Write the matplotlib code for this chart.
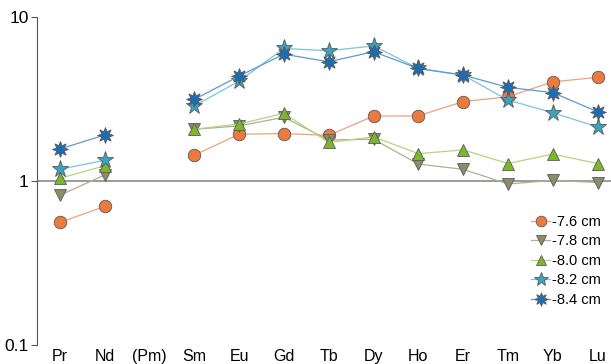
import numpy as np
import matplotlib.pyplot as plt

plt.rcParams['font.family'] = ['Liberation Sans', 'DejaVu Sans']

elements = ["Pr", "Nd", "(Pm)", "Sm", "Eu", "Gd", "Tb", "Dy", "Ho", "Er", "Tm", "Yb", "Lu"]
nan = np.nan

d76 = [0.56, 0.70, nan, 1.44, 1.93, 1.95, 1.90, 2.49, 2.50, 3.05, 3.27, 4.03, 4.29]
d78 = [0.82, 1.09, nan, 2.07, 2.17, 2.45, 1.78, 1.80, 1.27, 1.18, 0.96, 1.01, 0.98]
d80 = [1.04, 1.24, nan, 2.07, 2.23, 2.59, 1.72, 1.86, 1.47, 1.55, 1.28, 1.46, 1.28]
d82 = [1.18, 1.34, nan, 2.87, 4.07, 6.44, 6.23, 6.68, 4.86, 4.43, 3.12, 2.61, 2.14]
d84 = [1.57, 1.91, nan, 3.15, 4.37, 5.94, 5.34, 6.15, 4.86, 4.43, 3.73, 3.46, 2.65]

labels = ["-7.6 cm", "-7.8 cm", "-8.0 cm", "-8.2 cm", "-8.4 cm"]
series = [d76, d78, d80, d82, d84]
face = ["#EC7A3E", "#8C8B6A", "#7DB62C", "#3AA3C0", "#1B6DB3"]
line = ["#F0A07A", "#B0AE93", "#B4D67A", "#7CC4DA", "#5A9BCF"]
markers = ["o", "v", "^", "*", (8, 1, 0)]
sizes = [9, 9, 9, 12.5, 11.5]

fig = plt.figure(figsize=(6.11, 3.64), dpi=100)
ax = fig.add_axes([0.0606, 0.052, 0.9394, 0.901])

x = np.arange(len(elements))
for vals, lab, fc, lc, mk, ms in zip(series, labels, face, line, markers, sizes):
    ax.plot(x, vals, color=lc, lw=0.9, marker=mk, markersize=ms,
            markerfacecolor=fc, markeredgecolor="#5a5a5a", markeredgewidth=0.6,
            label=lab)

ax.axhline(1, color="#8a8a8a", lw=1.2, zorder=0)
ax.set_yscale("log")
ax.set_ylim(0.1, 10)
ax.set_xlim(-0.51, 12.3)
ax.set_yticks([0.1, 1, 10])
ax.set_yticklabels(["0.1", "1", "10"])
ax.minorticks_off()
ax.set_xticks(x)
ax.set_xticklabels(elements)
ax.tick_params(axis="x", length=0, labelsize=11.5, pad=3)
ax.tick_params(axis="y", length=4, labelsize=12.5, color="#555555", pad=2)
for s in ["top", "right", "bottom"]:
    ax.spines[s].set_visible(False)
ax.spines["left"].set_color("#555555")

ax.legend(loc="lower right", bbox_to_anchor=(1.0, 0.085), frameon=False,
          fontsize=10.5, handlelength=1.3, handletextpad=0.1, labelspacing=0.38,
          markerscale=0.85, borderpad=0.2)

fig.savefig("out.png", dpi=100)
